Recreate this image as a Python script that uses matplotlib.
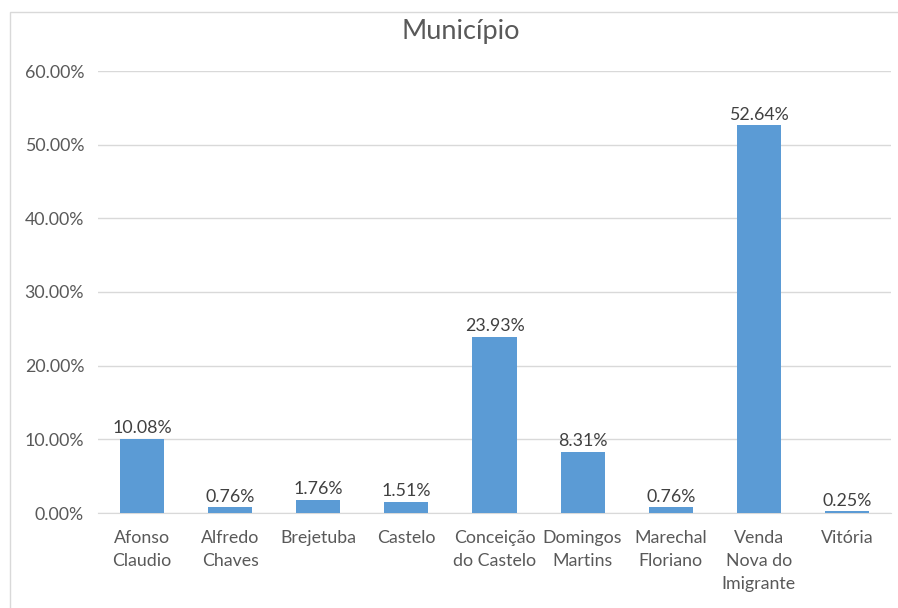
import matplotlib
matplotlib.use("Agg")
import matplotlib.pyplot as plt
from matplotlib.patches import Rectangle
from matplotlib.ticker import FuncFormatter

plt.rcParams['font.family'] = ['Lato', 'DejaVu Sans']

# data
municipios = ["Afonso\nClaudio", "Alfredo\nChaves", "Brejetuba", "Castelo",
              "Conceição\ndo Castelo", "Domingos\nMartins", "Marechal\nFloriano",
              "Venda\nNova do\nImigrante", "Vitória"]
percentuais = [10.08, 0.76, 1.76, 1.51, 23.93, 8.31, 0.76, 52.64, 0.25]
y_ticks = [0, 10, 20, 30, 40, 50, 60]

bar_color = "#5B9BD5"
text_color = "#595959"
grid_color = "#D9D9D9"

fig = plt.figure(figsize=(8.98, 6.08), dpi=100)
fig.patches.append(Rectangle((10 / 898, -0.1), 1.2, 1 - 12 / 608 + 0.1,
                             transform=fig.transFigure, fill=False,
                             edgecolor="#D9D9D9", linewidth=1))
ax = fig.add_axes([98 / 898, 1 - 513 / 608, (891 - 98) / 898, (513 - 71) / 608])

x = range(len(municipios))
bars = ax.bar(x, percentuais, width=0.5, color=bar_color, zorder=3)

for b, v in zip(bars, percentuais):
    ax.text(b.get_x() + b.get_width() / 2, v + 0.35, "%.2f%%" % v,
            ha="center", va="bottom", fontsize=12.8, color="#404040")

ax.set_xlim(-0.5, len(municipios) - 0.5)
ax.set_ylim(0, 60)
ax.set_yticks(y_ticks)
ax.yaxis.set_major_formatter(FuncFormatter(lambda v, p: "%.2f%%" % v))
ax.set_xticks(list(x))
ax.set_xticklabels(municipios, fontsize=12.8, color=text_color, linespacing=1.55)
ax.tick_params(axis="y", labelsize=12.8, labelcolor=text_color, length=0, pad=10)
ax.tick_params(axis="x", length=0, pad=12)
ax.yaxis.grid(True, color=grid_color, linewidth=1, zorder=0)
for s in ["top", "right", "left"]:
    ax.spines[s].set_visible(False)
ax.spines["bottom"].set_color(grid_color)

fig.text(461 / 898, 1 - 32 / 608, "Município", ha="center", va="center",
         fontsize=19.5, color=text_color)

fig.savefig("out.png", dpi=100)
